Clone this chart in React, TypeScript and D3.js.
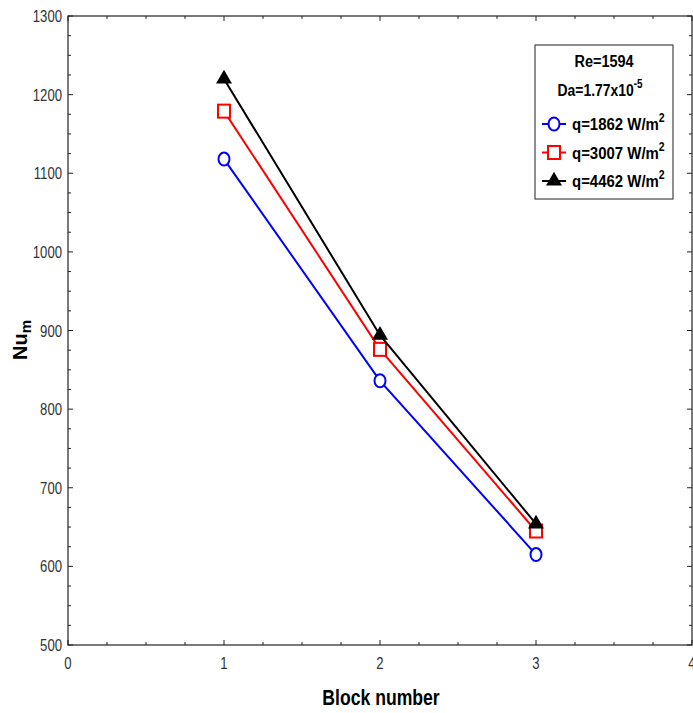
import React from "react";
import * as d3 from "d3";

const blocks = [1, 2, 3];
const nuLow = [1118, 836, 615];
const nuMid = [1179, 876, 645];
const nuHigh = [1220, 894, 654];
const yTicks = [500, 600, 700, 800, 900, 1000, 1100, 1200, 1300];
const xTicks = [0, 1, 2, 3, 4];

const W = 693;
const H = 713;
const M = { left: 68, top: 16, right: 692, bottom: 645 };
const FONT = "'Liberation Sans', Arial, sans-serif";

// Condensed text: horizontal squeeze of a regular sans face
function NarrowText(props: {
  x: number;
  y: number;
  sx?: number;
  anchor?: "start" | "middle" | "end";
  size: number;
  bold?: boolean;
  fill?: string;
  children: React.ReactNode;
}) {
  const { x, y, sx = 0.82, anchor = "start", size, bold, fill = "#000", children } = props;
  return (
    <text
      transform={`translate(${x},${y}) scale(${sx},1)`}
      textAnchor={anchor}
      fontFamily={FONT}
      fontSize={size}
      fontWeight={bold ? "bold" : "normal"}
      fill={fill}
    >
      {children}
    </text>
  );
}

export default function App() {
  const x = d3.scaleLinear().domain([0, 4]).range([M.left, M.right]);
  const y = d3.scaleLinear().domain([500, 1300]).range([M.bottom, M.top]);
  const line = d3
    .line<[number, number]>()
    .x((d) => x(d[0]))
    .y((d) => y(d[1]));

  const series = [
    { vals: nuLow, color: "#0000ff", marker: "circle", label: "q=1862 W/m" },
    { vals: nuMid, color: "#ff0000", marker: "square", label: "q=3007 W/m" },
    { vals: nuHigh, color: "#000000", marker: "triangle", label: "q=4462 W/m" },
  ];

  const marker = (kind: string, cx: number, cy: number, color: string, key?: string) => {
    if (kind === "circle")
      return <ellipse key={key} cx={cx} cy={cy} rx={5.5} ry={6.5} fill="white" stroke={color} strokeWidth={2} />;
    if (kind === "square")
      return <rect key={key} x={cx - 6} y={cy - 6.5} width={12} height={13} fill="white" stroke={color} strokeWidth={2} />;
    const tri = d3.symbol(d3.symbolTriangle, 110)();
    return <path key={key} d={tri ?? ""} transform={`translate(${cx},${cy})`} fill={color} />;
  };

  const xMinor = d3.range(0, 4.001, 0.25);
  const yMinor = d3.range(500, 1300.1, 25);

  return (
    <svg width={W} height={H} style={{ display: "block", position: "absolute", left: 0, top: 0 }}>
      <rect width={W} height={H} fill="white" />
      {/* ticks inside frame on all four sides */}
      {xMinor.map((v) => {
        const major = Math.abs(v - Math.round(v)) < 1e-6;
        const len = major ? 5 : 3;
        return (
          <g key={`xt${v}`} stroke="#222" strokeWidth={1}>
            <line x1={x(v)} x2={x(v)} y1={M.bottom} y2={M.bottom - len} />
            <line x1={x(v)} x2={x(v)} y1={M.top} y2={M.top + len} />
          </g>
        );
      })}
      {yMinor.map((v) => {
        const major = v % 100 === 0;
        const len = major ? 5 : 3;
        return (
          <g key={`yt${v}`} stroke="#222" strokeWidth={1}>
            <line x1={M.left} x2={M.left + len} y1={y(v)} y2={y(v)} />
            <line x1={M.right} x2={M.right - len} y1={y(v)} y2={y(v)} />
          </g>
        );
      })}
      <rect x={M.left} y={M.top} width={M.right - M.left} height={M.bottom - M.top} fill="none" stroke="#222" strokeWidth={1.2} />

      {yTicks.map((v) => (
        <NarrowText key={`yl${v}`} x={M.left - 6} y={y(v) + 6} anchor="end" size={16} fill="#333">
          {v}
        </NarrowText>
      ))}
      {xTicks.map((v) => (
        <NarrowText key={`xl${v}`} x={x(v)} y={M.bottom + 24} anchor="middle" size={16} fill="#333">
          {v}
        </NarrowText>
      ))}

      <NarrowText x={381} y={705} anchor="middle" size={22} bold sx={0.8}>
        Block number
      </NarrowText>
      <text transform="translate(27,340) rotate(-90)" textAnchor="middle" fontFamily={FONT} fontWeight="bold" fontSize={20} fill="#000">
        Nu
        <tspan fontSize={15} dy={4}>m</tspan>
      </text>

      {series.map((s) => (
        <g key={s.label}>
          <path d={line(blocks.map((b, i) => [b, s.vals[i]] as [number, number])) ?? ""} fill="none" stroke={s.color} strokeWidth={2} />
          {blocks.map((b, i) => marker(s.marker, x(b), y(s.vals[i]), s.color, `${s.label}${i}`))}
        </g>
      ))}

      {/* legend */}
      <g>
        <rect x={535} y={45} width={138} height={154} fill="white" stroke="#444" strokeWidth={1.2} />
        <NarrowText x={604} y={67} anchor="middle" size={17} bold sx={0.85}>
          Re=1594
        </NarrowText>
        <NarrowText x={600} y={96} anchor="middle" size={17} bold>
          Da=1.77x10
          <tspan fontSize={12} dy={-8}>-5</tspan>
        </NarrowText>
        {series.map((s, i) => {
          const ly = 124 + i * 28.5;
          return (
            <g key={`lg${i}`}>
              <line x1={542} x2={566} y1={ly} y2={ly} stroke={s.color} strokeWidth={2} />
              {marker(s.marker, 554, ly, s.color)}
              <NarrowText x={572} y={ly + 6} size={17} bold sx={0.88}>
                {s.label}
                <tspan fontSize={12} dy={-8}>2</tspan>
              </NarrowText>
            </g>
          );
        })}
      </g>
    </svg>
  );
}
